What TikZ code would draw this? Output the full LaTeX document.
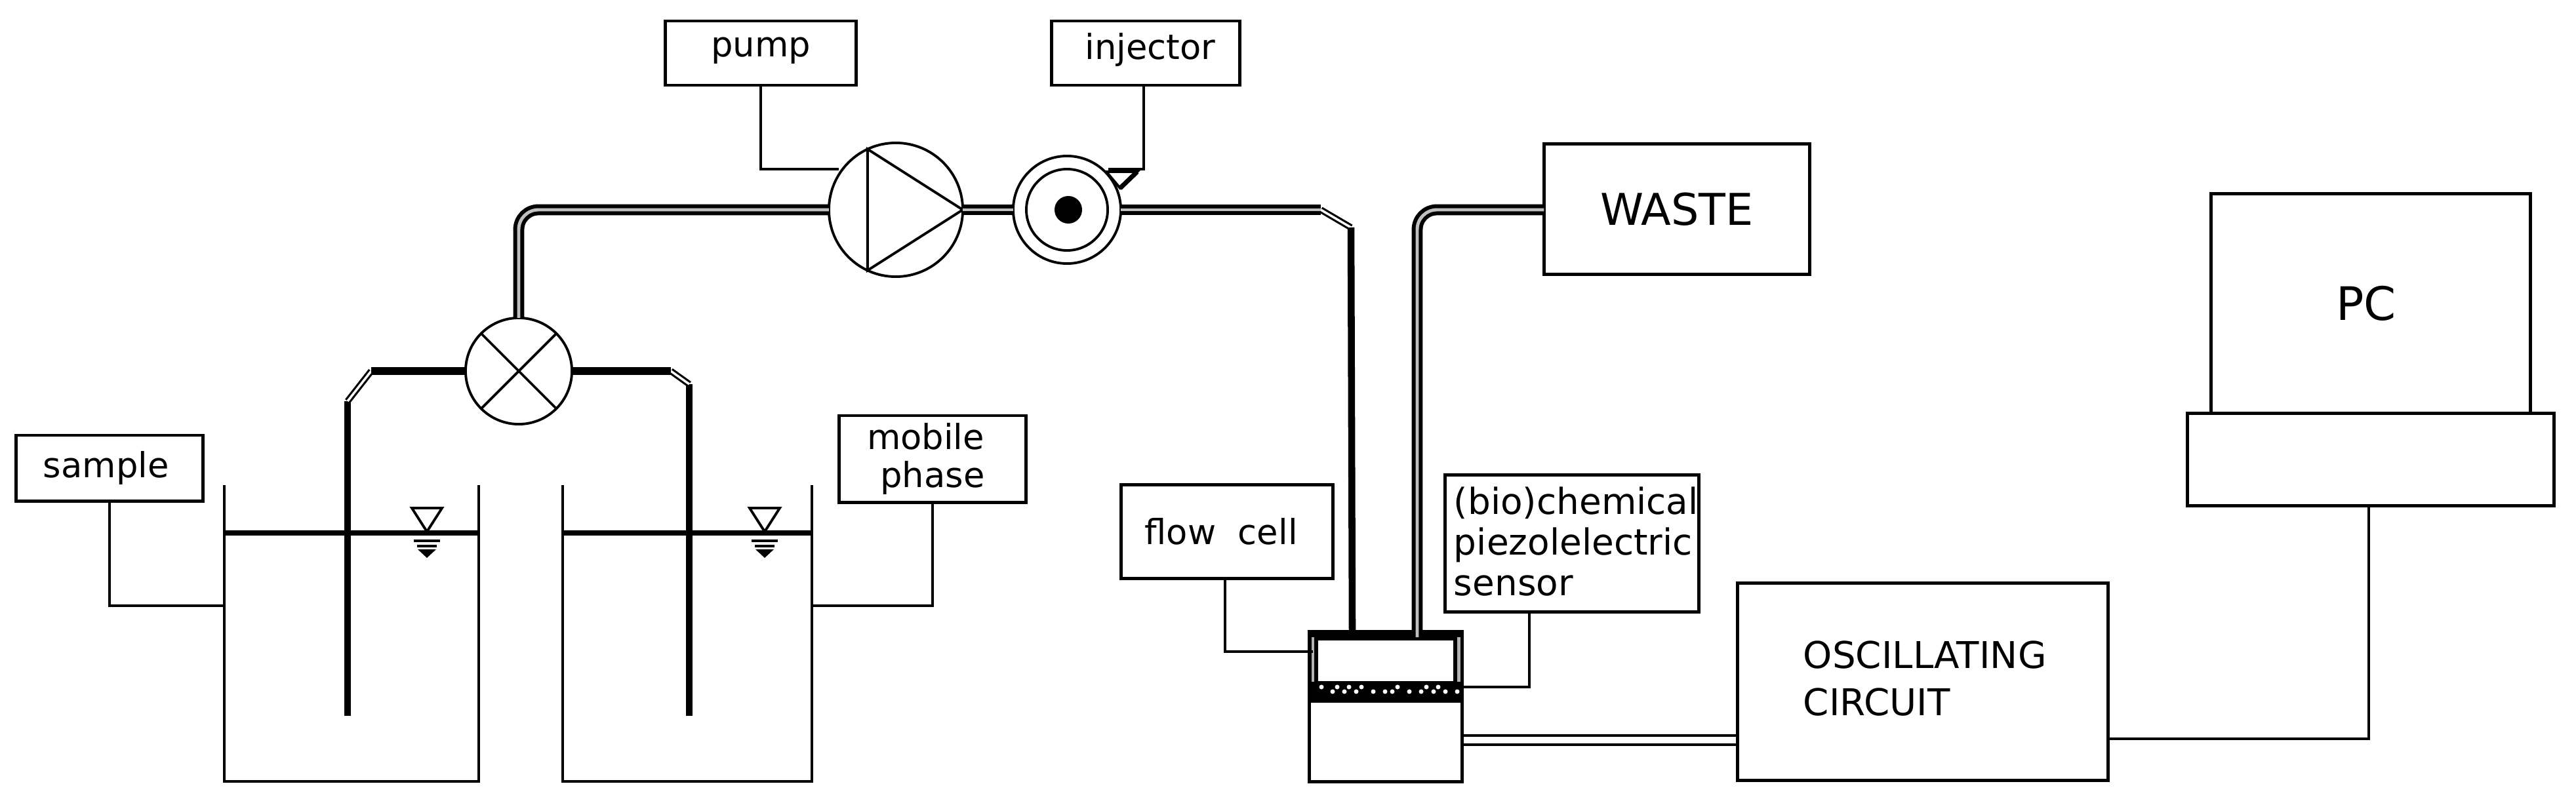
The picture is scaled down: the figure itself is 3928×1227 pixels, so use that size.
\documentclass[tikz,border=0pt]{standalone}
\usepackage{fontspec}
\setmainfont{DejaVu Sans}

\begin{document}
\begin{tikzpicture}[x=0.01cm,y=-0.01cm,font=\fontsize{15}{17.6}\selectfont]
\tikzstyle{tag}=[draw,rectangle,line width=1.4pt,inner sep=0pt,outer sep=0pt,align=center]
\tikzstyle{wheel}=[draw,circle,fill=white,line width=1.1pt,inner sep=0pt,outer sep=0pt]
\tikzstyle{leader}=[line width=1.1pt]
\tikzstyle{tube}=[line width=1.7pt,double=black!25,double distance=1.4pt,rounded corners=0.3cm]
\tikzstyle{elbow}=[line width=.9pt,double=white,double distance=1pt]
\tikzstyle{dip}=[line width=3pt]
\useasboundingbox (0,0) rectangle (3928,1227);

% Draw the label boxes
\node[tag,minimum width=2.85cm,minimum height=1.00cm] (sample) at (167,714) {sample\hspace*{3pt}};
\node[tag,minimum width=2.84cm,minimum height=1.32cm] (mobile) at (1422,700) {mobile\hspace*{6pt}\\[-1pt]phase};
\node[tag,minimum width=2.91cm,minimum height=0.98cm] (pump-box) at (1160,81) {\raisebox{5pt}{pump}};
\node[tag,minimum width=2.87cm,minimum height=0.98cm] (injector-box) at (1747,81) {\hspace*{4pt}\raisebox{6pt}{injector}};
\node[tag,minimum width=3.22cm,minimum height=1.43cm] (cell-box) at (1871,811) {flow\ \ cell\hspace*{5pt}};
\node[tag,minimum width=3.86cm,minimum height=2.08cm,text width=3.60cm,align=left,font=\fontsize{15.6}{17.6}\selectfont] (sensor-box) at (2397,829) {\raisebox{2pt}{(bio)chemical}\\\raisebox{2pt}{piezolelectric}\\\raisebox{2pt}{sensor}};
\node[tag,minimum width=4.05cm,minimum height=1.98cm,font=\fontsize{19}{22}\selectfont] (waste) at (2557,319) {WASTE};
\node[tag,minimum width=5.64cm,minimum height=3.01cm,text width=3.64cm,align=left,font=\fontsize{16}{20.5}\selectfont] (circuit) at (2932,1040) {\raisebox{3pt}{OSCILLATING}\\\raisebox{3pt}{CIRCUIT}};
\node[tag,minimum width=4.86cm,minimum height=3.35cm,font=\fontsize{20}{24}\selectfont] (monitor) at (3615,463) {\raisebox{-8pt}{PC}\hspace*{4pt}};
\node[tag,anchor=north,minimum width=5.59cm,minimum height=1.41cm] (base) at (monitor.south) {};

% Draw the valve, the pump and the injector
\node[wheel,minimum size=1.62cm] (valve) at (791,566) {};
\node[wheel,minimum size=2.04cm] (pump) at (1366,320) {};
\node[wheel,minimum size=1.64cm] (injector) at (1627,320) {};
\node[wheel,minimum size=1.24cm] (injector-in) at (1627,320) {};
\node[circle,fill=black,inner sep=0pt,minimum size=0.42cm] (injector-dot) at (1629,320) {};
\draw[leader] (valve.45) -- (valve.225);
\draw[leader] (valve.135) -- (valve.315);
\draw[leader] (pump.115) -- (pump.east) -- (pump.245) -- cycle;

% Draw the two vessels
\foreach \name / \xa / \xb / \xp / \xm in {S/342/730/530/651,M/858/1238/1051/1166}
{
\coordinate (\name-side) at (\xa,924);
\coordinate (\name-other) at (\xb,924);
\coordinate (\name-dip) at (\xp,1092);
\draw[line width=1.1pt] (\xa,740) -- (\xa,1192) -- (\xb,1192) -- (\xb,740);
\draw[line width=2pt] (\xa,813) -- (\xb,813);
\draw[leader] (\xm-23,775) -- (\xm+23,775) -- (\xm,811) -- cycle;
\draw[line width=1.4pt] (\xm-20,825) -- (\xm+20,825);
\draw[line width=1.4pt] (\xm-15,833) -- (\xm+15,833);
\fill (\xm-14,838) -- (\xm+14,838) -- (\xm,851) -- cycle;
}

% Draw the flow cell
\node[draw,line width=1.4pt,minimum width=2.33cm,minimum height=1.22cm,outer sep=0pt] (cell-low) at (2113,1131) {};
\node[draw,line width=1.5pt,double=black!30,double distance=1.4pt,minimum width=2.22cm,minimum height=0.78cm,outer sep=0pt] (cell-high) at (2113,1008) {};
\node[fill=black,minimum width=2.37cm,minimum height=0.30cm,inner sep=0pt] (cell-layer) at (2113,1055) {};
\draw[line width=3pt] (1995,967) -- (2153,967);
\draw[line width=3pt] (2166,967) -- (2232,967);
\foreach \x / \y in {2015/1048,2032/1055,2039/1048,2050/1055,2057/1048,2068/1055,2076/1048,2094/1055,
2112/1055,2123/1055,2131/1048,2149/1055,2167/1055,2175/1048,2186/1055,2193/1048,2204/1055,2222/1055}
\fill[white] (\x,\y) circle (0.035cm);

% Connect the vessels to the valve
\coordinate (S-top) at (530,612);
\coordinate (S-turn) at (566,566);
\coordinate (M-top) at (1051,586);
\coordinate (M-turn) at (1023,566);
\draw[dip] (S-dip) -- (S-top);
\draw[dip] (M-dip) -- (M-top);
\draw[elbow] (S-top) -- (S-turn);
\draw[elbow] (M-top) -- (M-turn);
\draw[line width=3.3pt] (S-turn) -- (valve.west);
\draw[line width=3.3pt] (M-turn) -- (valve.east);

% Connect the valve, the pump and the injector to the cell
\coordinate (up-a) at (791,320);
\coordinate (in-a) at (2014,320);
\coordinate (in-b) at (2060,347);
\coordinate (in-c) at (2062,962);
\coordinate (out-a) at (2161,320);
\coordinate (out-c) at (2161,972);
\draw[tube] (valve.north) -- (up-a) -- (pump.west);
\draw[tube] (pump.east) -- (injector.west);
\draw[tube] (injector.east) -- (in-a);
\draw[elbow] (in-a) -- (in-b);
\draw[dip] (in-b) -- (in-c);
\draw[tube] (out-c) -- (out-a) -- (waste.west |- out-a);

% Write the leaders
\coordinate (sensor-foot) at (2332,1048);
\coordinate (cell-foot) at (1868,994);
\coordinate (pump-foot) at (1279,258);
\coordinate (injector-foot) at (1690,258);
\coordinate (injector-drop) at (1744,130);
\draw[leader] (sample.south) |- (S-side);
\draw[leader] (mobile.south) |- (M-other);
\draw[leader] (pump-box.south) |- (pump-foot);
\draw[leader] (injector-drop) |- (injector-foot);
\draw[leader] (cell-box.south -| cell-foot) -- (cell-foot) -- (cell-high.west |- cell-foot);
\draw[leader] (sensor-box.south -| sensor-foot) -- (sensor-foot) -- (cell-high.east |- sensor-foot);
\draw[leader] (1687,262) -- (1734,262) -- (1708,287) -- cycle;
\draw[line width=2pt] (1734,262) -- (1708,287);

% Write the wires to the circuit and the PC
\coordinate (wire-a) at (2232,1122);
\coordinate (wire-b) at (2232,1136);
\coordinate (wire-c) at (3612,1127);
\draw[line width=1.2pt] (wire-a) -- (circuit.west |- wire-a);
\draw[line width=1.2pt] (wire-b) -- (circuit.west |- wire-b);
\draw[leader] (circuit.east |- wire-c) -- (wire-c) -- (base.south -| wire-c);

\end{tikzpicture}
\end{document}
